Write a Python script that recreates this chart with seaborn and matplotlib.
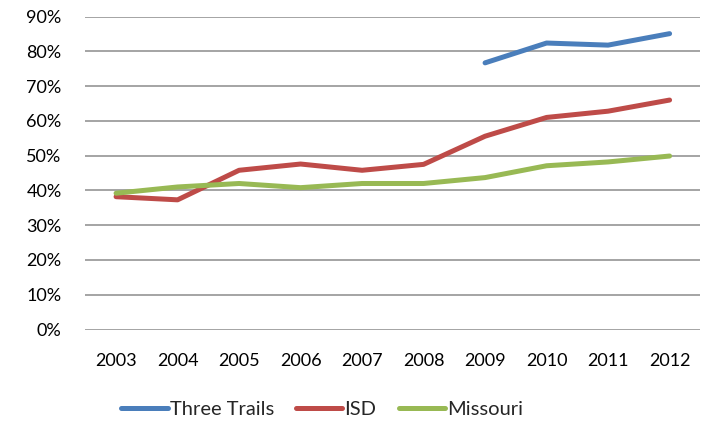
import numpy as np
import pandas as pd
import matplotlib
matplotlib.use("Agg")
import matplotlib.pyplot as plt
import seaborn as sns
from matplotlib.ticker import PercentFormatter

years = [2003, 2004, 2005, 2006, 2007, 2008, 2009, 2010, 2011, 2012]
three_trails = [np.nan, np.nan, np.nan, np.nan, np.nan, np.nan, 76.7, 82.4, 81.8, 85.1]
isd = [38.2, 37.3, 45.8, 47.6, 45.8, 47.5, 55.6, 61.0, 62.8, 66.0]
missouri = [39.2, 41.0, 42.0, 40.8, 42.0, 42.0, 43.7, 47.1, 48.2, 49.9]

series = ["Three Trails", "ISD", "Missouri"]
colors = ["#4A7EBB", "#BE4B48", "#98B954"]

df = pd.DataFrame({"year": years, "Three Trails": three_trails,
                   "ISD": isd, "Missouri": missouri})
long = df.melt(id_vars="year", var_name="series", value_name="pct").dropna()

sns.set_style("white")
plt.rcParams["font.family"] = ["Lato", "DejaVu Sans"]

fig = plt.figure(figsize=(7.11, 4.26), dpi=100)
ax = fig.add_axes([0.12, 0.2265, 0.865, 0.7345])

ax.set_ylim(0, 90)
ax.set_xlim(2002.5, 2012.5)
ax.set_yticks(range(0, 91, 10))
ax.yaxis.set_major_formatter(PercentFormatter(decimals=0))
ax.set_xticks(years)
ax.yaxis.grid(True, color="#8c8c8c", linewidth=1.1)
ax.set_axisbelow(True)
for s in ax.spines.values():
    s.set_visible(False)

sns.lineplot(data=long, x="year", y="pct", hue="series", hue_order=series,
             palette=colors, linewidth=3.6, ax=ax, legend=True,
             solid_capstyle="round")

ax.set_xlabel("")
ax.set_ylabel("")
ax.tick_params(axis="both", length=0, labelsize=13, colors="#000000")
ax.tick_params(axis="x", pad=17)
ax.tick_params(axis="y", pad=17)

handles, labels = ax.get_legend_handles_labels()
ax.legend(handles, labels, loc="center", bbox_to_anchor=(0.385, -0.255),
          ncol=3, frameon=False, fontsize=14.5, handlelength=2.3,
          handletextpad=0.1, columnspacing=1.1)

fig.savefig("out.png", dpi=100)
